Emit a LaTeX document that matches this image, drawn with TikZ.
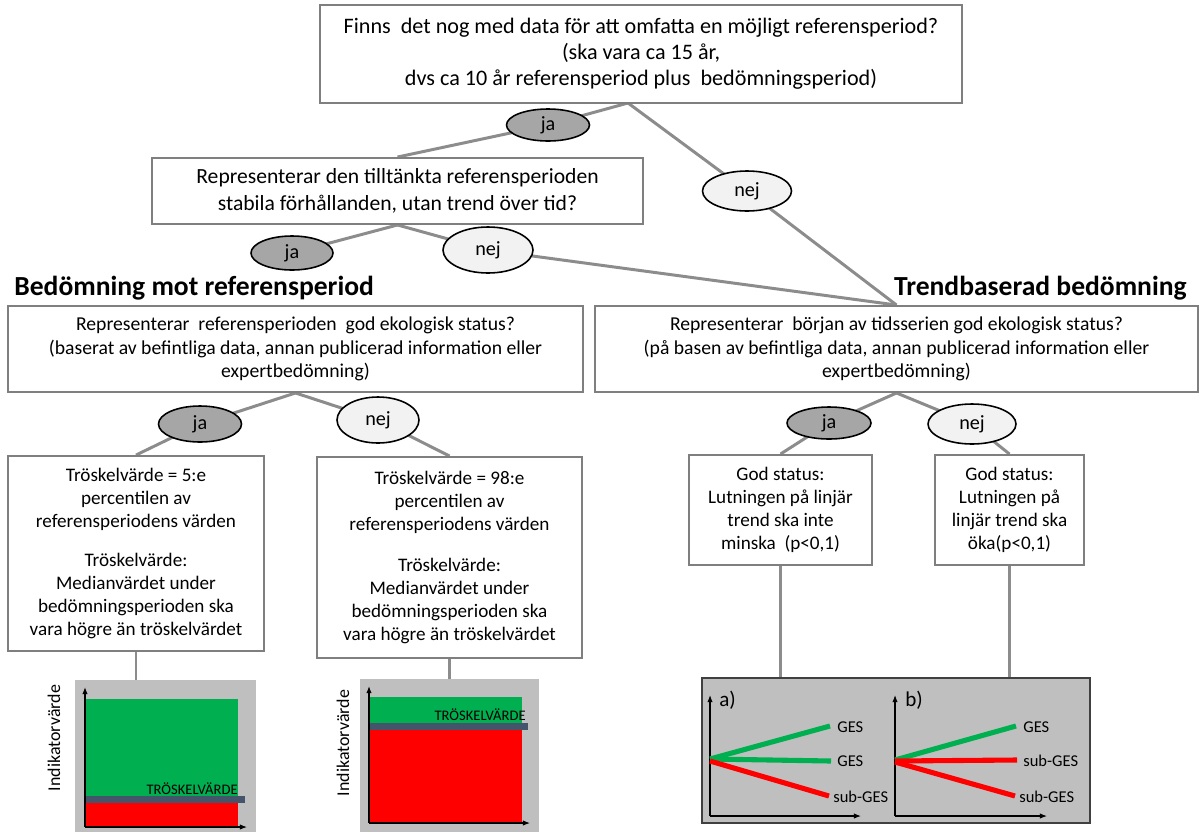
\documentclass[tikz,border=0pt]{standalone}
\usepackage{fontspec}
\setmainfont{Carlito}
\usetikzlibrary{shapes.geometric,arrows.meta,backgrounds}
\definecolor{boxline}{HTML}{7F7F7F}
\definecolor{conn}{HTML}{8C8C8C}
\definecolor{jafill}{HTML}{A6A6A6}
\definecolor{nejfill}{HTML}{F2F2F2}
\definecolor{gescol}{HTML}{00B050}
\definecolor{subcol}{HTML}{FF0000}
\definecolor{barcol}{HTML}{44546A}
\definecolor{chartbg}{HTML}{BFBFBF}
\newcommand\pxl[1]{#1*0.02cm}
\begin{document}
\begin{tikzpicture}[x=0.02cm,y=-0.02cm,
  qbox/.style={draw=boxline, line width=1.1pt, fill=white, align=center, inner sep=0pt},
  txtTop/.style={font=\fontsize{12.6}{14.9}\selectfont},
  txtA/.style={font=\fontsize{12.3}{15.2}\selectfont},
  txtB/.style={font=\fontsize{11.2}{13.4}\selectfont},
  txtC/.style={font=\fontsize{10.9}{13.1}\selectfont},
  jaell/.style={ellipse, draw=black, line width=0.9pt, fill=jafill, inner sep=0pt, font=\fontsize{11.5}{13}\selectfont},
  nejell/.style={ellipse, draw=black, line width=0.9pt, fill=nejfill, inner sep=0pt, font=\fontsize{11.5}{13}\selectfont},
  conline/.style={draw=conn, line width=1.7pt},
  heading/.style={font=\fontsize{15.7}{18}\selectfont\bfseries, inner sep=0pt},
  axisline/.style={draw=black, line width=0.6pt, -{Latex[length=4pt,width=3pt]}},
  trend/.style={line width=2.9pt},
  glab/.style={font=\fontsize{9.4}{11}\selectfont, inner sep=0pt},
  tlab/.style={font=\fontsize{8.3}{9}\selectfont, inner sep=0pt},
  ylab/.style={font=\fontsize{10.2}{11}\selectfont, inner sep=0pt, rotate=90}
]
\useasboundingbox (0,0) rectangle (1199,832);

% question boxes
\node[qbox, txtTop, minimum width=\pxl{642}, minimum height=\pxl{98}] (top) at (641,54)
  {Finns\ \ det nog med data för att omfatta en möjligt referensperiod?\\(ska vara ca 15 år,\\dvs ca 10 år referensperiod plus\ \ bedömningsperiod)};
\node[qbox, txtA, minimum width=\pxl{491}, minimum height=\pxl{66}] (q2) at (397.5,191)
  {Representerar den tilltänkta referensperioden\\stabila förhållanden, utan trend över tid?};
\node[qbox, txtB, minimum width=\pxl{575}, minimum height=\pxl{86}] (q3L) at (295.5,349)
  {Representerar\ \ referensperioden\ \ god ekologisk status?\\(baserat av befintliga data, annan publicerad information eller\\expertbedömning)};
\node[qbox, txtB, minimum width=\pxl{603}, minimum height=\pxl{86}] (q3R) at (896.5,349)
  {Representerar\ \ början av tidsserien god ekologisk status?\\(på basen av befintliga data, annan publicerad information eller\\expertbedömning)};

% headings
\node[heading, anchor=west] (hL) at (14,288) {Bedömning mot referensperiod};
\node[heading, anchor=east] (hR) at (1187,288) {Trendbaserad bedömning};

% result boxes
\node[qbox, txtC, minimum width=\pxl{256}, minimum height=\pxl{195}] (bA) at (136,553.5)
  {Tröskelvärde = 5:e\\percentilen av\\referensperiodens värden\\[9pt]Tröskelvärde:\\Medianvärdet under\\bedömningsperioden ska\\vara högre än tröskelvärdet};
\node[qbox, txtC, minimum width=\pxl{265}, minimum height=\pxl{201}] (bB) at (449.5,557.5)
  {Tröskelvärde = 98:e\\percentilen av\\referensperiodens värden\\[10pt]Tröskelvärde:\\Medianvärdet under\\bedömningsperioden ska\\vara högre än tröskelvärdet};
\node[qbox, txtC, minimum width=\pxl{183}, minimum height=\pxl{110}] (bC) at (780.5,510)
  {God status:\\Lutningen på linjär\\trend ska inte\\minska\ \ (p<0,1)};
\node[qbox, txtC, minimum width=\pxl{149}, minimum height=\pxl{110}] (bD) at (1009.5,510)
  {God status:\\Lutningen på\\linjär trend ska\\öka(p<0,1)};

% answer ellipses
\node[jaell, minimum width=\pxl{83}, minimum height=\pxl{32}] (e1) at (548,125) {ja};
\node[nejell, minimum width=\pxl{89}, minimum height=\pxl{40}] (e2) at (747,191) {nej};
\node[jaell, minimum width=\pxl{82}, minimum height=\pxl{34}] (e3) at (292,253) {ja};
\node[nejell, minimum width=\pxl{90}, minimum height=\pxl{46}] (e4) at (488,250) {nej};
\node[jaell, minimum width=\pxl{83}, minimum height=\pxl{36}] (e5) at (200,424) {ja};
\node[nejell, minimum width=\pxl{82}, minimum height=\pxl{46}] (e6) at (378,420) {nej};
\node[jaell, minimum width=\pxl{84}, minimum height=\pxl{32}] (e7) at (829,423) {ja};
\node[nejell, minimum width=\pxl{88}, minimum height=\pxl{40}] (e8) at (972,424) {nej};

% chart frames
\node[fill=chartbg, inner sep=0pt, minimum width=\pxl{181}, minimum height=\pxl{152}] (c1) at (165.5,756) {};
\node[fill=chartbg, inner sep=0pt, minimum width=\pxl{179}, minimum height=\pxl{153}] (c2) at (449.5,755.5) {};
\node[fill=chartbg, draw=black!75, line width=0.8pt, inner sep=0pt, minimum width=\pxl{388}, minimum height=\pxl{145}] (c3) at (896,750.5) {};

\coordinate (j1) at (628,103);

\begin{pgfonlayer}{background}
\draw[conline] (j1) -- (e1.center) -- (q2.north);
\draw[conline] (j1) -- (e2.center) -- (q3R.north);
\draw[conline] (q2.south) -- (e3.center);
\draw[conline] (q2.south) -- (e4.center) -- (q3R.north);
\draw[conline] (q3L.south) -- (e5.center) -- (bA.north);
\draw[conline] (q3L.south) -- (e6.center) -- (bB.north);
\draw[conline] (q3R.south) -- (e7.center) -- (bC.north);
\draw[conline] (q3R.south) -- (e8.center) -- (bD.north);
\draw[conline] (bA.south) -- (bA.south |- c1.north);
\draw[conline] (bB.south) -- (bB.south |- c2.north);
\draw[conline] (bC.south) -- (bC.south |- c3.north);
\draw[conline] (bD.south) -- (bD.south |- c3.north);
\end{pgfonlayer}

% chart 1
\fill[gescol] (86,699) rectangle (238,796);
\fill[subcol] (86,802) rectangle (238,826);
\fill[barcol] (85,796) rectangle (245,803);
\draw[axisline] (85,827) -- (85,687);
\draw[axisline] (85,827) -- (247,827);
\node[tlab, anchor=base east] (t1) at (238,794) {TRÖSKELVÄRDE};
\node[ylab] (y1) at (54,738) {Indikatorvärde};

% chart 2
\fill[gescol] (370,697) rectangle (522,723);
\fill[subcol] (370,729) rectangle (522,823);
\fill[barcol] (369,723) rectangle (528,730);
\draw[axisline] (369,823) -- (369,686);
\draw[axisline] (369,823) -- (530,823);
\node[tlab, anchor=base east] (t2) at (526,720) {TRÖSKELVÄRDE};
\node[ylab] (y2) at (343,743) {Indikatorvärde};

% chart 3, panel a
\draw[axisline] (710,816) -- (710,695);
\draw[axisline] (710,816) -- (861,816);
\node[glab, font=\fontsize{12}{13}\selectfont, anchor=west] (pa) at (719,700) {a)};
\draw[trend, gescol] (710,759) -- (830,726);
\draw[trend, gescol] (710,759) -- (831,761);
\draw[trend, subcol] (710,761) -- (829,796);
\node[glab, anchor=west] (ga1) at (837,727) {GES};
\node[glab, anchor=west] (ga2) at (837,761) {GES};
\node[glab, anchor=west] (ga3) at (833,797) {sub-GES};

% chart 3, panel b
\draw[axisline] (895,816) -- (895,695);
\draw[axisline] (895,816) -- (1047,816);
\node[glab, font=\fontsize{12}{13}\selectfont, anchor=west] (pb) at (905,700) {b)};
\draw[trend, gescol] (895,760) -- (1016,726);
\draw[trend, subcol] (895,761) -- (1017,760);
\draw[trend, subcol] (895,762) -- (1015,796);
\node[glab, anchor=west] (gb1) at (1023,727) {GES};
\node[glab, anchor=west] (gb2) at (1023,761) {sub-GES};
\node[glab, anchor=west] (gb3) at (1019,797) {sub-GES};
\end{tikzpicture}
\end{document}
